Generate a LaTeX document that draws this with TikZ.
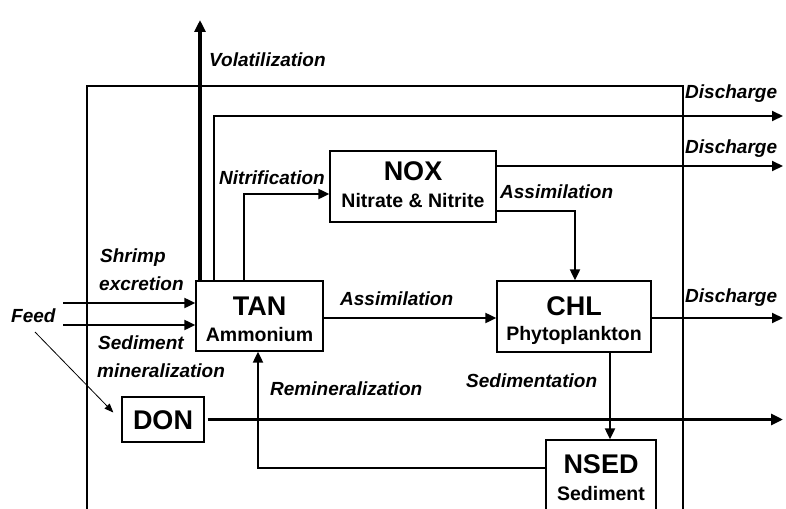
\documentclass[tikz,border=0pt]{standalone}
\usepackage{fontspec}
\setmainfont{Liberation Sans}
\usetikzlibrary{arrows.meta,calc}
\newcommand\boxtitlefont{\fontsize{27}{30}\selectfont\bfseries}
\newcommand\boxsubfont{\fontsize{19.5}{22}\selectfont\bfseries}
\begin{document}
\begin{tikzpicture}[x=1pt,y=-1pt,
  box/.style={draw,line width=1.3pt,rectangle,inner sep=0pt},
  ttl/.style={font=\boxtitlefont,inner sep=0pt},
  sub/.style={font=\boxsubfont,inner sep=0pt},
  lbl/.style={font=\fontsize{19}{25}\selectfont\bfseries\itshape,inner sep=0pt,anchor=west},
  ln/.style={line width=2pt},
  ar/.style={ln,-{Triangle[length=11pt,width=10pt]}},
  thk/.style={line width=3.5pt,-{Triangle[length=12pt,width=11pt]}},
  thinar/.style={line width=0.8pt,-{Triangle[length=9pt,width=7pt]}}
]
\useasboundingbox (0,0) rectangle (786,508);
\clip (0,0) rectangle (786,508);

% outer frame
\coordinate (o1) at (87,515);
\coordinate (o2) at (87,86);
\coordinate (o3) at (683,86);
\coordinate (o4) at (683,515);
\draw[ln] (o1) -- (o2) -- (o3) -- (o4);

% boxes
\node[box,fill=white,minimum width=127pt,minimum height=70pt] (TAN) at (259.5,316) {};
\node[box,fill=white,minimum width=166pt,minimum height=71pt] (NOX) at (413,186.5) {};
\node[box,fill=white,minimum width=154pt,minimum height=71pt] (CHL) at (574,316.5) {};
\node[box,fill=white,minimum width=82pt,minimum height=45pt] (DON) at (163,419.5) {};
\node[box,fill=white,minimum width=110pt,minimum height=90pt] (NSED) at (601,485) {};

% box texts
\node[ttl] (TANt) at (259.5,306) {TAN};
\node[sub] (TANs) at (259.5,335) {Ammonium};
\node[ttl] (NOXt) at (413,171) {NOX};
\node[sub] (NOXs) at (413,201) {Nitrate \& Nitrite};
\node[ttl] (CHLt) at (574,306) {CHL};
\node[sub] (CHLs) at (574,335) {Phytoplankton};
\node[ttl] (DONt) at (163,420) {DON};
\node[ttl] (NSEDt) at (601,464) {NSED};
\node[sub] (NSEDs) at (601,494) {Sediment};

% connector points
\coordinate (vol) at (200,20);
\coordinate (c1) at (214,116);
\coordinate (d1) at (783,116);
\coordinate (n1) at (244,194);
\coordinate (d2) at (783,166);
\coordinate (a1) at (575,211);
\coordinate (a2) at (400,318);
\coordinate (d3) at (783,318);
\coordinate (s1) at (610,400);
\coordinate (r1) at (258,468);
\coordinate (d4) at (783,419.5);
\coordinate (f1) at (63,303);
\coordinate (f2) at (63,325);
\coordinate (f3) at (35,332);

% connectors
\draw[thk] (TAN.north -| vol) -- (vol);
\draw[ar] (TAN.north -| c1) -- (c1) -- (d1);
\draw[ar] (TAN.north -| n1) -- (n1) -- (NOX.west |- n1);
\draw[ar] (NOX.east |- d2) -- (d2);
\draw[ar] (NOX.east |- a1) -- (a1) -- (CHL.north -| a1);
\draw[ar] (TAN.east |- a2) -- (CHL.west |- a2);
\draw[ar] (CHL.east |- d3) -- (d3);
\draw[ar] (CHL.south -| s1) -- (NSED.north -| s1);
\draw[ar] (NSED.west |- r1) -- (r1) -- (TAN.south -| r1);
\draw[thk,shorten <=3pt] (DON.east) -- (d4);
\draw[ar] (f1) -- (TAN.west |- f1);
\draw[ar] (f2) -- (TAN.west |- f2);
\draw[thinar] (f3) -- ([xshift=-8pt,yshift=7pt]DON.west);

% labels
\node[lbl] (Lvol) at (209,60) {Volatilization};
\node[lbl] (Ld1) at (685,94) {Discharge};
\node[lbl] (Ld2) at (685,149) {Discharge};
\node[lbl] (Ld3) at (685,298) {Discharge};
\node[lbl] (Lnit) at (219,178) {Nitrification};
\node[lbl] (Las1) at (500,192) {Assimilation};
\node[lbl] (Las2) at (340,299) {Assimilation};
\node[lbl] (Lsh1) at (100,258) {Shrimp};
\node[lbl] (Lsh2) at (99,284) {excretion};
\node[lbl] (Lfeed) at (11,316) {Feed};
\node[lbl] (Lsm1) at (98,343) {Sediment};
\node[lbl] (Lsm2) at (97,371) {mineralization};
\node[lbl] (Lrem) at (270,389) {Remineralization};
\node[lbl] (Lsed) at (466,381) {Sedimentation};
\end{tikzpicture}
\end{document}
